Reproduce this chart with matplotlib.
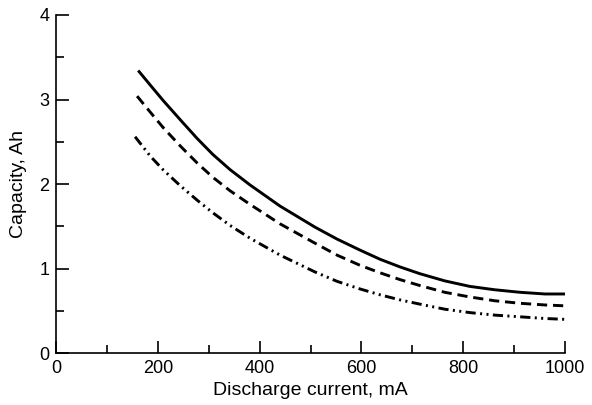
import numpy as np
import matplotlib
matplotlib.use("Agg")
import matplotlib.pyplot as plt
from matplotlib.ticker import MultipleLocator

# values
current_grid = [185, 210, 244, 277, 308, 342, 381, 440, 509, 552, 597, 637,
                676, 715, 764, 813, 862, 912, 961, 1000]

current_solid = [163] + current_grid
capacity_solid = [3.33, 3.17, 2.99, 2.76, 2.54, 2.35, 2.17, 1.99, 1.74, 1.49,
                  1.35, 1.22, 1.11, 1.02, 0.94, 0.855, 0.79, 0.75, 0.72, 0.70, 0.70]

current_dashed = [159] + current_grid
capacity_dashed = [3.04, 2.85, 2.67, 2.45, 2.25, 2.08, 1.92, 1.76, 1.53, 1.30,
                   1.16, 1.04, 0.95, 0.87, 0.80, 0.72, 0.665, 0.62, 0.59, 0.57, 0.56]

current_dashdot = [155] + current_grid
capacity_dashdot = [2.56, 2.33, 2.17, 1.98, 1.81, 1.66, 1.51, 1.36, 1.16, 0.96,
                    0.85, 0.76, 0.69, 0.63, 0.58, 0.52, 0.48, 0.45, 0.43, 0.41, 0.40]

plt.rcParams['font.family'] = ['Liberation Sans', 'DejaVu Sans']

fig = plt.figure(figsize=(5.92, 4.05), dpi=100)
ax = fig.add_axes([0.095, 0.128, 0.859, 0.835])

ax.plot(current_solid, capacity_solid, color='black', lw=2.1, ls='-')
ax.plot(current_dashed, capacity_dashed, color='black', lw=2.1, ls=(0, (3.5, 2.0)))
ax.plot(current_dashdot, capacity_dashdot, color='black', lw=2.1,
        ls=(0, (3.5, 1.5, 0.7, 1.5, 0.7, 1.5)))

ax.set_xlim(0, 1000)
ax.set_ylim(0, 4)
ax.xaxis.set_major_locator(MultipleLocator(200))
ax.xaxis.set_minor_locator(MultipleLocator(100))
ax.yaxis.set_major_locator(MultipleLocator(1))
ax.yaxis.set_minor_locator(MultipleLocator(0.5))

for side in ['top', 'right']:
    ax.spines[side].set_visible(False)
for side in ['left', 'bottom']:
    ax.spines[side].set_linewidth(1.2)

ax.tick_params(which='major', direction='in', length=9, width=1.2, labelsize=13, pad=5)
ax.tick_params(which='minor', direction='in', length=5.5, width=1.2)

ax.set_xlabel('Discharge current, mA', fontsize=14, va='top')
ax.set_ylabel('Capacity, Ah', fontsize=14)
ax.xaxis.set_label_coords(0.5, -0.084)
ax.yaxis.set_label_coords(-0.057, 0.5)

fig.savefig('out.png', dpi=100)
